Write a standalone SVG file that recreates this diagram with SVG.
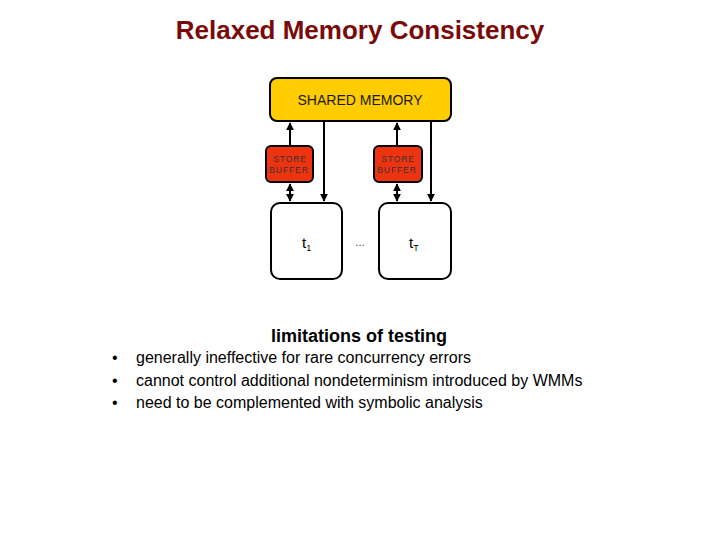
<svg xmlns="http://www.w3.org/2000/svg" width="720" height="540" viewBox="0 0 720 540">
<defs>
<style>
.ln{stroke:#000;stroke-width:2;fill:none}
.t{font-family:"Liberation Sans",Arial,sans-serif}
.sb{font-size:8.5px;fill:#333;letter-spacing:0.9px}
</style>
<marker id="ah" viewBox="0 0 10 10" refX="9" refY="5" markerWidth="4" markerHeight="4" orient="auto-start-reverse"><path d="M0,0 L10,5 L0,10 z" fill="#000"/></marker>
</defs>
<rect width="720" height="540" fill="#fff"/>
<text class="t" x="360" y="39" text-anchor="middle" font-size="26" font-weight="bold" fill="#7a0a0a">Relaxed Memory Consistency</text>
<g id="mem"><rect x="270" y="78" width="181" height="43" rx="7" fill="#ffcc00" stroke="#000" stroke-width="2"/>
<text class="t" x="360" y="105" text-anchor="middle" font-size="14" fill="#1a1a1a">SHARED MEMORY</text></g>
<g id="sb1"><rect x="266" y="146" width="47" height="36" rx="5" fill="#ee3311" stroke="#000" stroke-width="2"/>
<text class="t sb" x="290" y="162" text-anchor="middle">STORE</text>
<text class="t sb" x="289" y="173" text-anchor="middle">BUFFER</text></g>
<g id="sb2"><rect x="374" y="146" width="48" height="36" rx="5" fill="#ee3311" stroke="#000" stroke-width="2"/>
<text class="t sb" x="398" y="162" text-anchor="middle">STORE</text>
<text class="t sb" x="397" y="173" text-anchor="middle">BUFFER</text></g>
<g id="t1"><rect x="271" y="203" width="71" height="76" rx="9" fill="#fff" stroke="#000" stroke-width="2"/>
<text class="t" x="302" y="248" font-size="15" fill="#000">t<tspan font-size="9" dy="3">1</tspan></text></g>
<g id="tT"><rect x="379" y="203" width="72" height="76" rx="9" fill="#fff" stroke="#000" stroke-width="2"/>
<text class="t" x="409" y="248" font-size="15" fill="#000">t<tspan font-size="9" dy="3">T</tspan></text></g>
<text class="t" x="360" y="246" text-anchor="middle" font-size="10" fill="#333">…</text>
<g id="connectors">
<line class="ln" x1="290" y1="146" x2="290" y2="123" marker-end="url(#ah)"/>
<line class="ln" x1="397" y1="146" x2="397" y2="123" marker-end="url(#ah)"/>
<line class="ln" x1="324" y1="121" x2="324" y2="201" marker-end="url(#ah)"/>
<line class="ln" x1="431" y1="121" x2="431" y2="201" marker-end="url(#ah)"/>
<line class="ln" x1="290" y1="184" x2="290" y2="201" marker-start="url(#ah)" marker-end="url(#ah)"/>
<line class="ln" x1="397" y1="184" x2="397" y2="201" marker-start="url(#ah)" marker-end="url(#ah)"/>
</g>
<text class="t" x="359" y="342" text-anchor="middle" font-size="18" font-weight="bold" fill="#000">limitations of testing</text>
<g class="t" font-size="16" fill="#000">
<text x="112" y="363">•</text><text x="136" y="363">generally ineffective for rare concurrency errors</text>
<text x="112" y="386">•</text><text x="136" y="386">cannot control additional nondeterminism introduced by WMMs</text>
<text x="112" y="408">•</text><text x="136" y="408">need to be complemented with symbolic analysis</text>
</g>
</svg>
